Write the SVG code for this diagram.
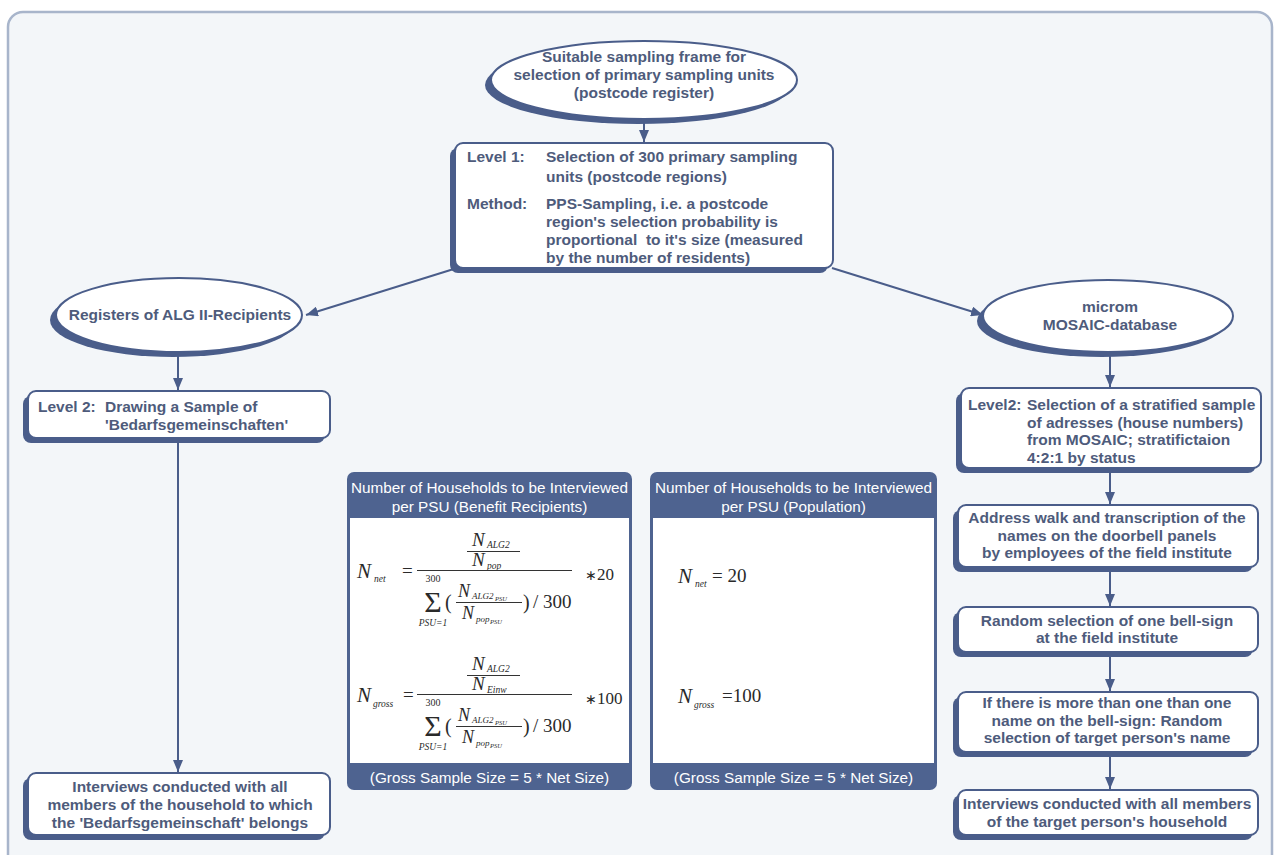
<svg xmlns="http://www.w3.org/2000/svg" width="1275" height="855" viewBox="0 0 1275 855">
<defs>
<style>
.panel{fill:#f3f6f9;stroke:#a8b5cb;stroke-width:2.5}
.shadow{fill:#4a5d8a}
.node{fill:#ffffff;stroke:#4a5d8a;stroke-width:2}
.t{font-family:"Liberation Sans",Arial,sans-serif;font-weight:bold;font-size:15.5px;fill:#4e5b7b}
.c{text-anchor:middle}
.hdr{font-family:"Liberation Sans",Arial,sans-serif;font-size:15.3px;fill:#ffffff;text-anchor:middle}
.fbox{fill:#4e6390}
.fin{fill:#ffffff}
.m{font-family:"Liberation Serif","Times New Roman",serif;fill:#2a2a2a}
.mi{font-style:italic}
.conn{stroke:#4a5d8a;stroke-width:2;fill:none}
.bar{stroke:#333;stroke-width:1}
</style>
<marker id="ah" viewBox="0 0 12 10" refX="12" refY="5" markerWidth="12" markerHeight="10" markerUnits="userSpaceOnUse" orient="auto">
<path d="M0,0 L12,5 L0,10 Z" fill="#4a5d8a"/>
</marker>
<g id="frac-den">
<text class="m" x="433" y="582" font-size="10" text-anchor="middle">300</text>
<text class="m" x="433" y="612" font-size="30" text-anchor="middle">Σ</text>
<text class="m mi" x="433" y="626" font-size="9.5" text-anchor="middle">PSU=1</text>
<text class="m" x="445" y="609" font-size="20">(</text>
<text class="m mi" x="458" y="597" font-size="18">N</text>
<text class="m mi" x="472" y="599" font-size="9">ALG2</text>
<text class="m mi" x="495" y="601" font-size="6.5">PSU</text>
<line class="bar" x1="456" y1="602.5" x2="522" y2="602.5"/>
<text class="m mi" x="462" y="619" font-size="18">N</text>
<text class="m mi" x="476" y="622" font-size="9">pop</text>
<text class="m mi" x="490" y="624" font-size="6.5">PSU</text>
<text class="m" x="523" y="609" font-size="20">)</text>
<text class="m" x="533" y="608" font-size="19">/ 300</text>
</g>
</defs>
<rect x="0" y="0" width="1275" height="855" fill="#ffffff"/>
<rect class="panel" x="8" y="12" width="1264" height="880" rx="15"/>

<g id="connectors">
<line class="conn" x1="644" y1="119" x2="644" y2="142" marker-end="url(#ah)"/>
<line class="conn" x1="457" y1="268" x2="306" y2="315" marker-end="url(#ah)"/>
<line class="conn" x1="832" y1="268" x2="983" y2="315" marker-end="url(#ah)"/>
<line class="conn" x1="178" y1="352" x2="178" y2="390" marker-end="url(#ah)"/>
<line class="conn" x1="1110" y1="352" x2="1110" y2="387" marker-end="url(#ah)"/>
<line class="conn" x1="178" y1="443" x2="178" y2="772" marker-end="url(#ah)"/>
<line class="conn" x1="1110" y1="473" x2="1110" y2="504" marker-end="url(#ah)"/>
<line class="conn" x1="1110" y1="572" x2="1110" y2="606" marker-end="url(#ah)"/>
<line class="conn" x1="1110" y1="657" x2="1110" y2="691" marker-end="url(#ah)"/>
<line class="conn" x1="1110" y1="757" x2="1110" y2="789" marker-end="url(#ah)"/>
</g>

<g id="frame">
<ellipse class="shadow" cx="638" cy="85" rx="153" ry="39"/>
<ellipse class="node" cx="644" cy="80" rx="153" ry="39"/>
<text class="t c" x="644" y="62">Suitable sampling frame for</text>
<text class="t c" x="644" y="80">selection of primary sampling units</text>
<text class="t c" x="644" y="98">(postcode register)</text>
</g>

<g id="level1">
<rect class="shadow" x="450" y="148" width="378" height="125" rx="8"/>
<rect class="node" x="455" y="143" width="378" height="125" rx="8"/>
<text class="t" x="467" y="162">Level 1:</text>
<text class="t" x="546" y="162">Selection of 300 primary sampling</text>
<text class="t" x="546" y="182">units (postcode regions)</text>
<text class="t" x="467" y="209">Method:</text>
<text class="t" x="546" y="209">PPS-Sampling, i.e. a postcode</text>
<text class="t" x="546" y="227">region's selection probability is</text>
<text class="t" x="546" y="245" xml:space="preserve">proportional  to it's size (measured</text>
<text class="t" x="546" y="263">by the number of residents)</text>
</g>

<g id="alg">
<ellipse class="shadow" cx="173" cy="320" rx="123" ry="37"/>
<ellipse class="node" cx="179" cy="315" rx="123" ry="37"/>
<text class="t c" x="180" y="320">Registers of ALG II-Recipients</text>
</g>

<g id="mosaic">
<ellipse class="shadow" cx="1102" cy="321" rx="125" ry="36"/>
<ellipse class="node" cx="1108" cy="316" rx="125" ry="36"/>
<text class="t c" x="1110" y="312">microm</text>
<text class="t c" x="1110" y="330">MOSAIC-database</text>
</g>

<g id="level2left">
<rect class="shadow" x="23" y="396" width="302" height="47" rx="8"/>
<rect class="node" x="28" y="391" width="302" height="47" rx="8"/>
<text class="t" x="38" y="412">Level 2:</text>
<text class="t" x="105" y="412">Drawing a Sample of</text>
<text class="t" x="105" y="430">'Bedarfsgemeinschaften'</text>
</g>

<g id="interviewsleft">
<rect class="shadow" x="23" y="778" width="302" height="62" rx="8"/>
<rect class="node" x="28" y="773" width="302" height="62" rx="8"/>
<text class="t c" x="180" y="792">Interviews conducted with all</text>
<text class="t c" x="180" y="810">members of the household to which</text>
<text class="t c" x="180" y="828">the 'Bedarfsgemeinschaft' belongs</text>
</g>

<g id="level2right">
<rect class="shadow" x="956" y="393" width="300" height="80" rx="8"/>
<rect class="node" x="961" y="388" width="300" height="80" rx="8"/>
<text class="t" x="968" y="410">Level2:</text>
<text class="t" x="1027" y="410">Selection of a stratified sample</text>
<text class="t" x="1027" y="427.5">of adresses (house numbers)</text>
<text class="t" x="1027" y="445">from MOSAIC; stratifictaion</text>
<text class="t" x="1027" y="462.5">4:2:1 by status</text>
</g>

<g id="address">
<rect class="shadow" x="953" y="510" width="300" height="62" rx="8"/>
<rect class="node" x="958" y="505" width="300" height="62" rx="8"/>
<text class="t c" x="1107" y="523">Address walk and transcription of the</text>
<text class="t c" x="1107" y="541">names on the doorbell panels</text>
<text class="t c" x="1107" y="558">by employees of the field institute</text>
</g>

<g id="random">
<rect class="shadow" x="953" y="612" width="300" height="45" rx="8"/>
<rect class="node" x="958" y="607" width="300" height="45" rx="8"/>
<text class="t c" x="1107" y="626">Random selection of one bell-sign</text>
<text class="t c" x="1107" y="643">at the field institute</text>
</g>

<g id="ifmore">
<rect class="shadow" x="953" y="697" width="300" height="60" rx="8"/>
<rect class="node" x="958" y="692" width="300" height="60" rx="8"/>
<text class="t c" x="1107" y="708">If there is more than one than one</text>
<text class="t c" x="1107" y="726">name on the bell-sign: Random</text>
<text class="t c" x="1107" y="743">selection of target person's name</text>
</g>

<g id="interviewsright">
<rect class="shadow" x="953" y="795" width="300" height="45" rx="8"/>
<rect class="node" x="958" y="790" width="300" height="45" rx="8"/>
<text class="t c" x="1107" y="809">Interviews conducted with all members</text>
<text class="t c" x="1107" y="827">of the target person's household</text>
</g>

<g id="formula-benefit">
<rect class="fbox" x="347" y="472" width="285" height="318" rx="7"/>
<rect class="fin" x="350" y="518" width="279" height="245"/>
<text class="hdr" x="489.5" y="493">Number of Households to be Interviewed</text>
<text class="hdr" x="489.5" y="512">per PSU (Benefit Recipients)</text>
<text class="hdr" x="489.5" y="783">(Gross Sample Size = 5 * Net Size)</text>
<g id="f-net">
<text class="m mi" x="357" y="578" font-size="21">N</text>
<text class="m mi" x="374" y="582" font-size="9.5">net</text>
<text class="m" x="402" y="577" font-size="19">=</text>
<text class="m mi" x="472" y="546" font-size="19">N</text>
<text class="m mi" x="487" y="548" font-size="9.5">ALG2</text>
<line class="bar" x1="467" y1="551.5" x2="520" y2="551.5"/>
<text class="m mi" x="472" y="566" font-size="19">N</text>
<text class="m mi" x="487" y="569" font-size="9.5">pop</text>
<line class="bar" x1="417" y1="570.5" x2="572" y2="570.5"/>
<text class="m" x="585" y="580" font-size="17"><tspan font-size="14">∗</tspan>20</text>
<use href="#frac-den"/>
</g>
<g id="f-gross">
<text class="m mi" x="357" y="702" font-size="21">N</text>
<text class="m mi" x="373" y="707" font-size="9.5">gross</text>
<text class="m" x="403" y="701" font-size="19">=</text>
<text class="m mi" x="472" y="670" font-size="19">N</text>
<text class="m mi" x="487" y="672" font-size="9.5">ALG2</text>
<line class="bar" x1="467" y1="675.5" x2="520" y2="675.5"/>
<text class="m mi" x="472" y="690" font-size="19">N</text>
<text class="m mi" x="487" y="693" font-size="9.5">Einw</text>
<line class="bar" x1="417" y1="694.5" x2="572" y2="694.5"/>
<text class="m" x="585" y="704" font-size="17"><tspan font-size="14">∗</tspan>100</text>
<use href="#frac-den" transform="translate(0,124)"/>
</g>
</g>

<g id="formula-population">
<rect class="fbox" x="650" y="472" width="287" height="318" rx="7"/>
<rect class="fin" x="653" y="518" width="281" height="245"/>
<text class="hdr" x="793.5" y="493">Number of Households to be Interviewed</text>
<text class="hdr" x="793.5" y="512">per PSU (Population)</text>
<text class="hdr" x="793.5" y="783">(Gross Sample Size = 5 * Net Size)</text>
<text class="m mi" x="678" y="583" font-size="21">N</text>
<text class="m mi" x="695" y="587" font-size="9.5">net</text>
<text class="m" x="712" y="582" font-size="19">= 20</text>
<text class="m mi" x="678" y="703" font-size="21">N</text>
<text class="m mi" x="694" y="708" font-size="9.5">gross</text>
<text class="m" x="722" y="702" font-size="19">=100</text>
</g>
</svg>
